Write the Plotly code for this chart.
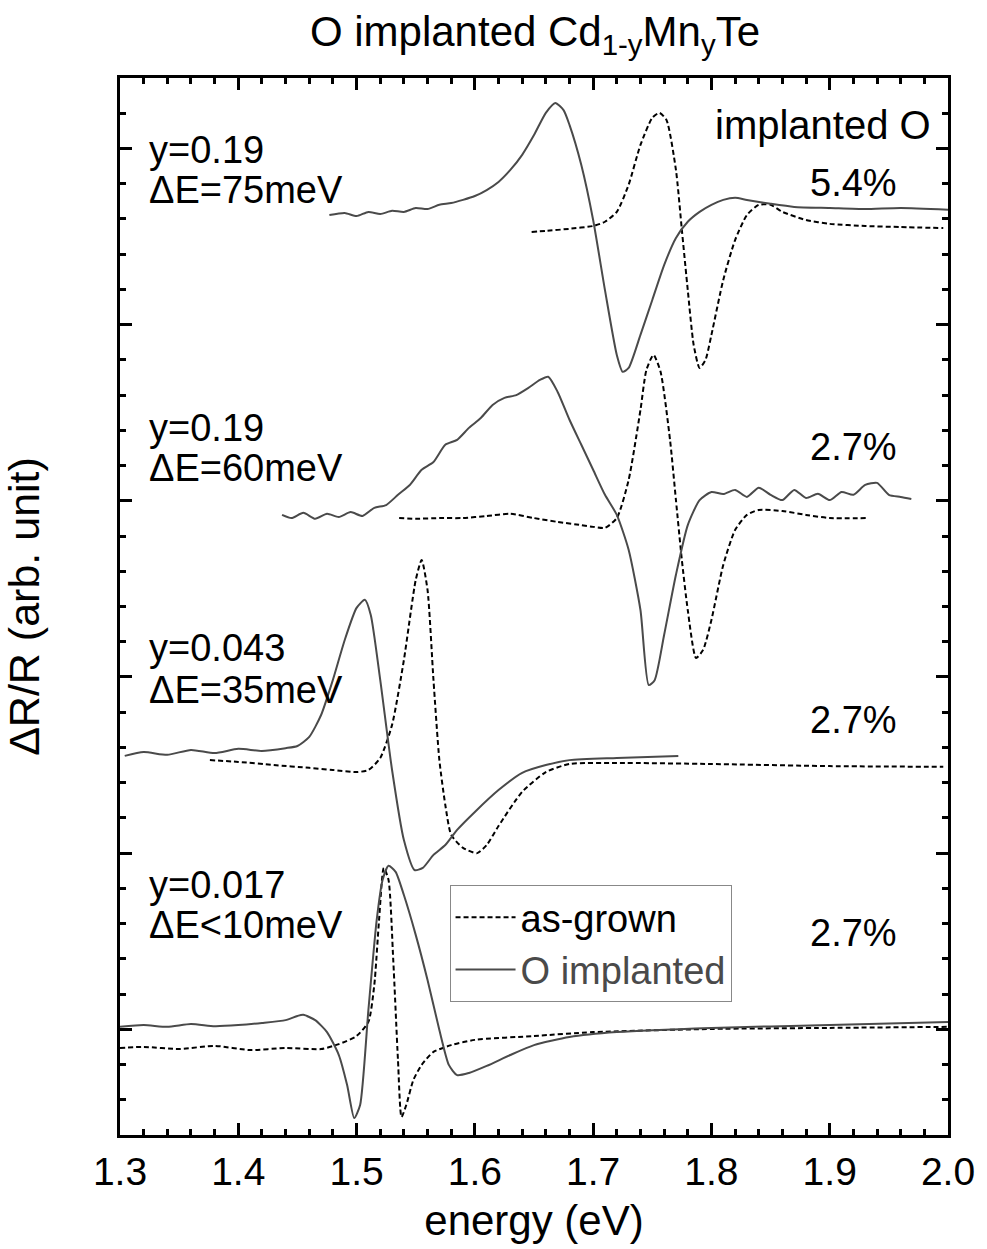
import plotly.graph_objects as go

# ---------------- data (energy in eV, dR/R in arbitrary offset units) ----------------
# set 1 : y=0.19, dE=75meV, 5.4 %
s1_impl_x = [1.477, 1.49, 1.50, 1.51, 1.52, 1.53, 1.54, 1.55, 1.56, 1.57, 1.58, 1.59, 1.60, 1.61, 1.62,
             1.63, 1.64, 1.65, 1.66, 1.668, 1.675, 1.68, 1.69, 1.70, 1.71, 1.72, 1.725, 1.73, 1.74, 1.75,
             1.76, 1.77, 1.78, 1.79, 1.80, 1.81, 1.82, 1.83, 1.85, 1.87, 1.90, 1.93, 1.96, 2.00]
s1_impl_y = [26.11, 26.17, 26.08, 26.20, 26.14, 26.23, 26.20, 26.31, 26.28, 26.40, 26.45, 26.54, 26.65,
             26.82, 27.05, 27.39, 27.82, 28.38, 29.01, 29.29, 29.09, 28.67, 27.53, 25.97, 23.98, 22.14,
             21.66, 21.77, 22.71, 23.70, 24.69, 25.46, 25.92, 26.20, 26.40, 26.54, 26.60, 26.54, 26.43,
             26.34, 26.31, 26.28, 26.31, 26.26]
s1_grown_x = [1.648, 1.66, 1.68, 1.70, 1.71, 1.72, 1.73, 1.74, 1.75, 1.756, 1.762, 1.77, 1.775, 1.78,
              1.785, 1.79, 1.795, 1.80, 1.81, 1.82, 1.83, 1.84, 1.85, 1.86, 1.88, 1.90, 1.93, 1.96, 1.996]
s1_grown_y = [25.63, 25.66, 25.72, 25.80, 25.92, 26.20, 26.97, 28.10, 28.87, 29.01, 28.81, 27.39, 25.69,
              23.98, 22.42, 21.77, 22.00, 22.71, 24.27, 25.40, 26.11, 26.40, 26.40, 26.20, 25.97, 25.86,
              25.80, 25.77, 25.74]

# set 2 : y=0.19, dE=60meV, 2.7 %
s2_impl_x = [1.437, 1.445, 1.455, 1.465, 1.475, 1.485, 1.495, 1.505, 1.515, 1.525, 1.535, 1.545, 1.555,
             1.565, 1.575, 1.585, 1.595, 1.605, 1.615, 1.625, 1.635, 1.645, 1.655, 1.662, 1.67, 1.68,
             1.69, 1.70, 1.71, 1.72, 1.73, 1.74, 1.747, 1.752, 1.76, 1.77, 1.78, 1.79, 1.80, 1.81, 1.82,
             1.83, 1.84, 1.85, 1.86, 1.87, 1.88, 1.89, 1.90, 1.91, 1.92, 1.93, 1.94, 1.95, 1.96, 1.969]
s2_impl_y = [17.60, 17.51, 17.66, 17.49, 17.63, 17.54, 17.68, 17.57, 17.80, 17.88, 18.17, 18.45, 18.88,
             19.10, 19.59, 19.73, 20.07, 20.35, 20.72, 20.92, 21.00, 21.20, 21.43, 21.52, 21.09, 20.30,
             19.59, 18.88, 18.17, 17.60, 16.61, 14.90, 12.77, 12.91, 14.19, 15.90, 17.31, 18.02, 18.25,
             18.19, 18.31, 18.11, 18.37, 18.17, 18.02, 18.31, 18.08, 18.20, 18.02, 18.25, 18.17, 18.45,
             18.51, 18.17, 18.11, 18.05]
s2_grown_x = [1.536, 1.55, 1.57, 1.59, 1.61, 1.63, 1.65, 1.67, 1.69, 1.70, 1.71, 1.72, 1.73, 1.74, 1.745,
              1.751, 1.757, 1.765, 1.77, 1.775, 1.78, 1.787, 1.793, 1.80, 1.81, 1.82, 1.83, 1.84, 1.86,
              1.88, 1.90, 1.933]
s2_grown_y = [17.51, 17.49, 17.51, 17.51, 17.57, 17.63, 17.51, 17.40, 17.31, 17.26, 17.23, 17.51, 18.59,
              20.58, 21.71, 22.14, 21.66, 19.73, 18.02, 16.32, 14.90, 13.54, 13.77, 14.62, 16.18, 17.17,
              17.60, 17.74, 17.71, 17.60, 17.51, 17.51]

# set 3 : y=0.043, dE=35meV, 2.7 %
s3_impl_x = [1.304, 1.32, 1.34, 1.36, 1.38, 1.40, 1.42, 1.44, 1.45, 1.46, 1.47, 1.48, 1.49, 1.50, 1.507,
             1.512, 1.52, 1.53, 1.54, 1.549, 1.556, 1.565, 1.575, 1.585, 1.60, 1.62, 1.64, 1.66, 1.68,
             1.72, 1.772]
s3_impl_y = [10.76, 10.87, 10.79, 10.93, 10.84, 10.96, 10.90, 10.98, 11.04, 11.30, 11.92, 12.92, 14.05,
             14.96, 15.19, 14.76, 12.92, 10.36, 8.37, 7.52, 7.58, 7.95, 8.23, 8.66, 9.17, 9.79, 10.28,
             10.50, 10.64, 10.70, 10.76]
s3_grown_x = [1.376, 1.40, 1.43, 1.46, 1.48, 1.50, 1.51, 1.52, 1.53, 1.54, 1.55, 1.555, 1.56, 1.565, 1.57,
              1.575, 1.58, 1.59, 1.602, 1.61, 1.62, 1.64, 1.66, 1.68, 1.72, 1.80, 1.90, 1.996]
s3_grown_y = [10.64, 10.59, 10.50, 10.42, 10.36, 10.30, 10.36, 10.70, 11.64, 13.48, 15.75, 16.32, 15.47,
              12.92, 10.64, 9.37, 8.52, 8.15, 8.00, 8.23, 8.77, 9.74, 10.30, 10.53, 10.56, 10.53, 10.47,
              10.45]

# set 4 : y=0.017, dE<10meV, 2.7 %
s4_impl_x = [1.30, 1.32, 1.34, 1.36, 1.38, 1.40, 1.42, 1.44, 1.45, 1.455, 1.465, 1.475, 1.485, 1.492,
             1.498, 1.503, 1.51, 1.517, 1.522, 1.527, 1.533, 1.54, 1.55, 1.56, 1.57, 1.578, 1.585, 1.595,
             1.61, 1.63, 1.65, 1.68, 1.72, 1.80, 1.90, 2.00]
s4_impl_y = [3.07, 3.12, 3.07, 3.15, 3.09, 3.12, 3.18, 3.26, 3.38, 3.41, 3.26, 2.92, 2.27, 1.42, 0.48,
             0.85, 3.55, 6.10, 7.24, 7.64, 7.47, 6.81, 5.68, 4.40, 2.98, 1.99, 1.70, 1.76, 1.96, 2.27,
             2.55, 2.78, 2.92, 3.04, 3.12, 3.21]
s4_grown_x = [1.30, 1.32, 1.35, 1.38, 1.41, 1.44, 1.47, 1.485, 1.50, 1.51, 1.515, 1.519, 1.523, 1.527,
              1.531, 1.535, 1.538, 1.542, 1.548, 1.555, 1.565, 1.58, 1.60, 1.65, 1.70, 1.80, 1.90, 2.00]
s4_grown_y = [2.47, 2.50, 2.44, 2.53, 2.41, 2.47, 2.44, 2.58, 2.81, 3.21, 4.26, 6.10, 7.58, 7.24, 4.97,
              2.13, 0.51, 0.85, 1.56, 1.99, 2.36, 2.55, 2.70, 2.81, 2.92, 3.01, 3.04, 3.07]

# labels
left_labels = ["y=0.19", "ΔE=75meV", "y=0.19", "ΔE=60meV", "y=0.043", "ΔE=35meV", "y=0.017", "ΔE&lt;10meV"]
left_label_y = [27.96, 26.82, 20.07, 18.93, 13.82, 12.63, 7.10, 5.96]
pct_labels = ["5.4%", "2.7%", "2.7%", "2.7%"]
pct_label_y = [27.02, 19.53, 11.78, 5.73]

# ---------------- figure ----------------
FONT = "Arial, Liberation Sans, sans-serif"
GRAY = "#4a4a4a"
fig = go.Figure()

sets = [(s1_impl_x, s1_impl_y, s1_grown_x, s1_grown_y),
        (s2_impl_x, s2_impl_y, s2_grown_x, s2_grown_y),
        (s3_impl_x, s3_impl_y, s3_grown_x, s3_grown_y),
        (s4_impl_x, s4_impl_y, s4_grown_x, s4_grown_y)]
for i, (ix, iy, gx, gy) in enumerate(sets):
    fig.add_trace(go.Scatter(x=gx, y=gy, mode="lines", name="as-grown",
                             line=dict(color="black", width=2, dash="5px,3px", shape="spline", smoothing=0.6),
                             showlegend=(i == 0), legendrank=1))
    fig.add_trace(go.Scatter(x=ix, y=iy, mode="lines",
                             name="<span style='color:#4a4a4a'>O implanted</span>",
                             line=dict(color=GRAY, width=2, shape="spline", smoothing=0.6),
                             showlegend=(i == 0), legendrank=2))

annotations = []
for t, yv in zip(left_labels, left_label_y):
    annotations.append(dict(x=1.323, y=yv, xref="x", yref="y", text=t, showarrow=False,
                            xanchor="left", yanchor="middle", font=dict(size=38, color="black", family=FONT)))
for t, yv in zip(pct_labels, pct_label_y):
    annotations.append(dict(x=1.92, y=yv, xref="x", yref="y", text=t, showarrow=False,
                            xanchor="center", yanchor="middle", font=dict(size=38, color="black", family=FONT)))
annotations.append(dict(x=1.987, y=28.67, xref="x", yref="y", text="implanted O", showarrow=False,
                        xanchor="right", yanchor="middle", font=dict(size=40, color="black", family=FONT)))

axis_common = dict(showline=True, linecolor="black", linewidth=3, mirror="allticks",
                   ticks="inside", ticklen=12, tickwidth=2.5, tickcolor="black",
                   showgrid=False, zeroline=False)

fig.update_layout(
    width=987, height=1249,
    margin=dict(l=120, r=37, t=78, b=114),
    paper_bgcolor="white", plot_bgcolor="white",
    font=dict(family=FONT, size=38, color="black"),
    title=dict(text="O implanted Cd<sub>1-y</sub>Mn<sub>y</sub>Te", x=0.542, xanchor="center",
               y=0.975, yanchor="middle", yref="container",
               font=dict(size=42, family=FONT, color="black")),
    xaxis=dict(range=[1.3, 2.0], dtick=0.1, tick0=1.3, tickformat=".1f",
               tickfont=dict(size=39, family=FONT),
               title=dict(text="energy (eV)", font=dict(size=42, family=FONT), standoff=14),
               minor=dict(dtick=0.02, tick0=1.3, ticklen=6, tickwidth=2.5, tickcolor="black", ticks="inside"),
               **axis_common),
    yaxis=dict(range=[0, 30], tick0=3, dtick=5, showticklabels=False,
               title=dict(text="ΔR/R (arb. unit)", font=dict(size=43, family=FONT), standoff=64),
               minor=dict(dtick=1, tick0=0, ticklen=6, tickwidth=2.5, tickcolor="black", ticks="inside"),
               **axis_common),
    legend=dict(x=0.398, y=0.2365, xanchor="left", yanchor="top", bgcolor="white",
                bordercolor="#888888", borderwidth=1, font=dict(size=38, family=FONT, color="black"),
                tracegroupgap=0, itemwidth=60),
    annotations=annotations,
    showlegend=True,
)

fig.write_html("out.html")
